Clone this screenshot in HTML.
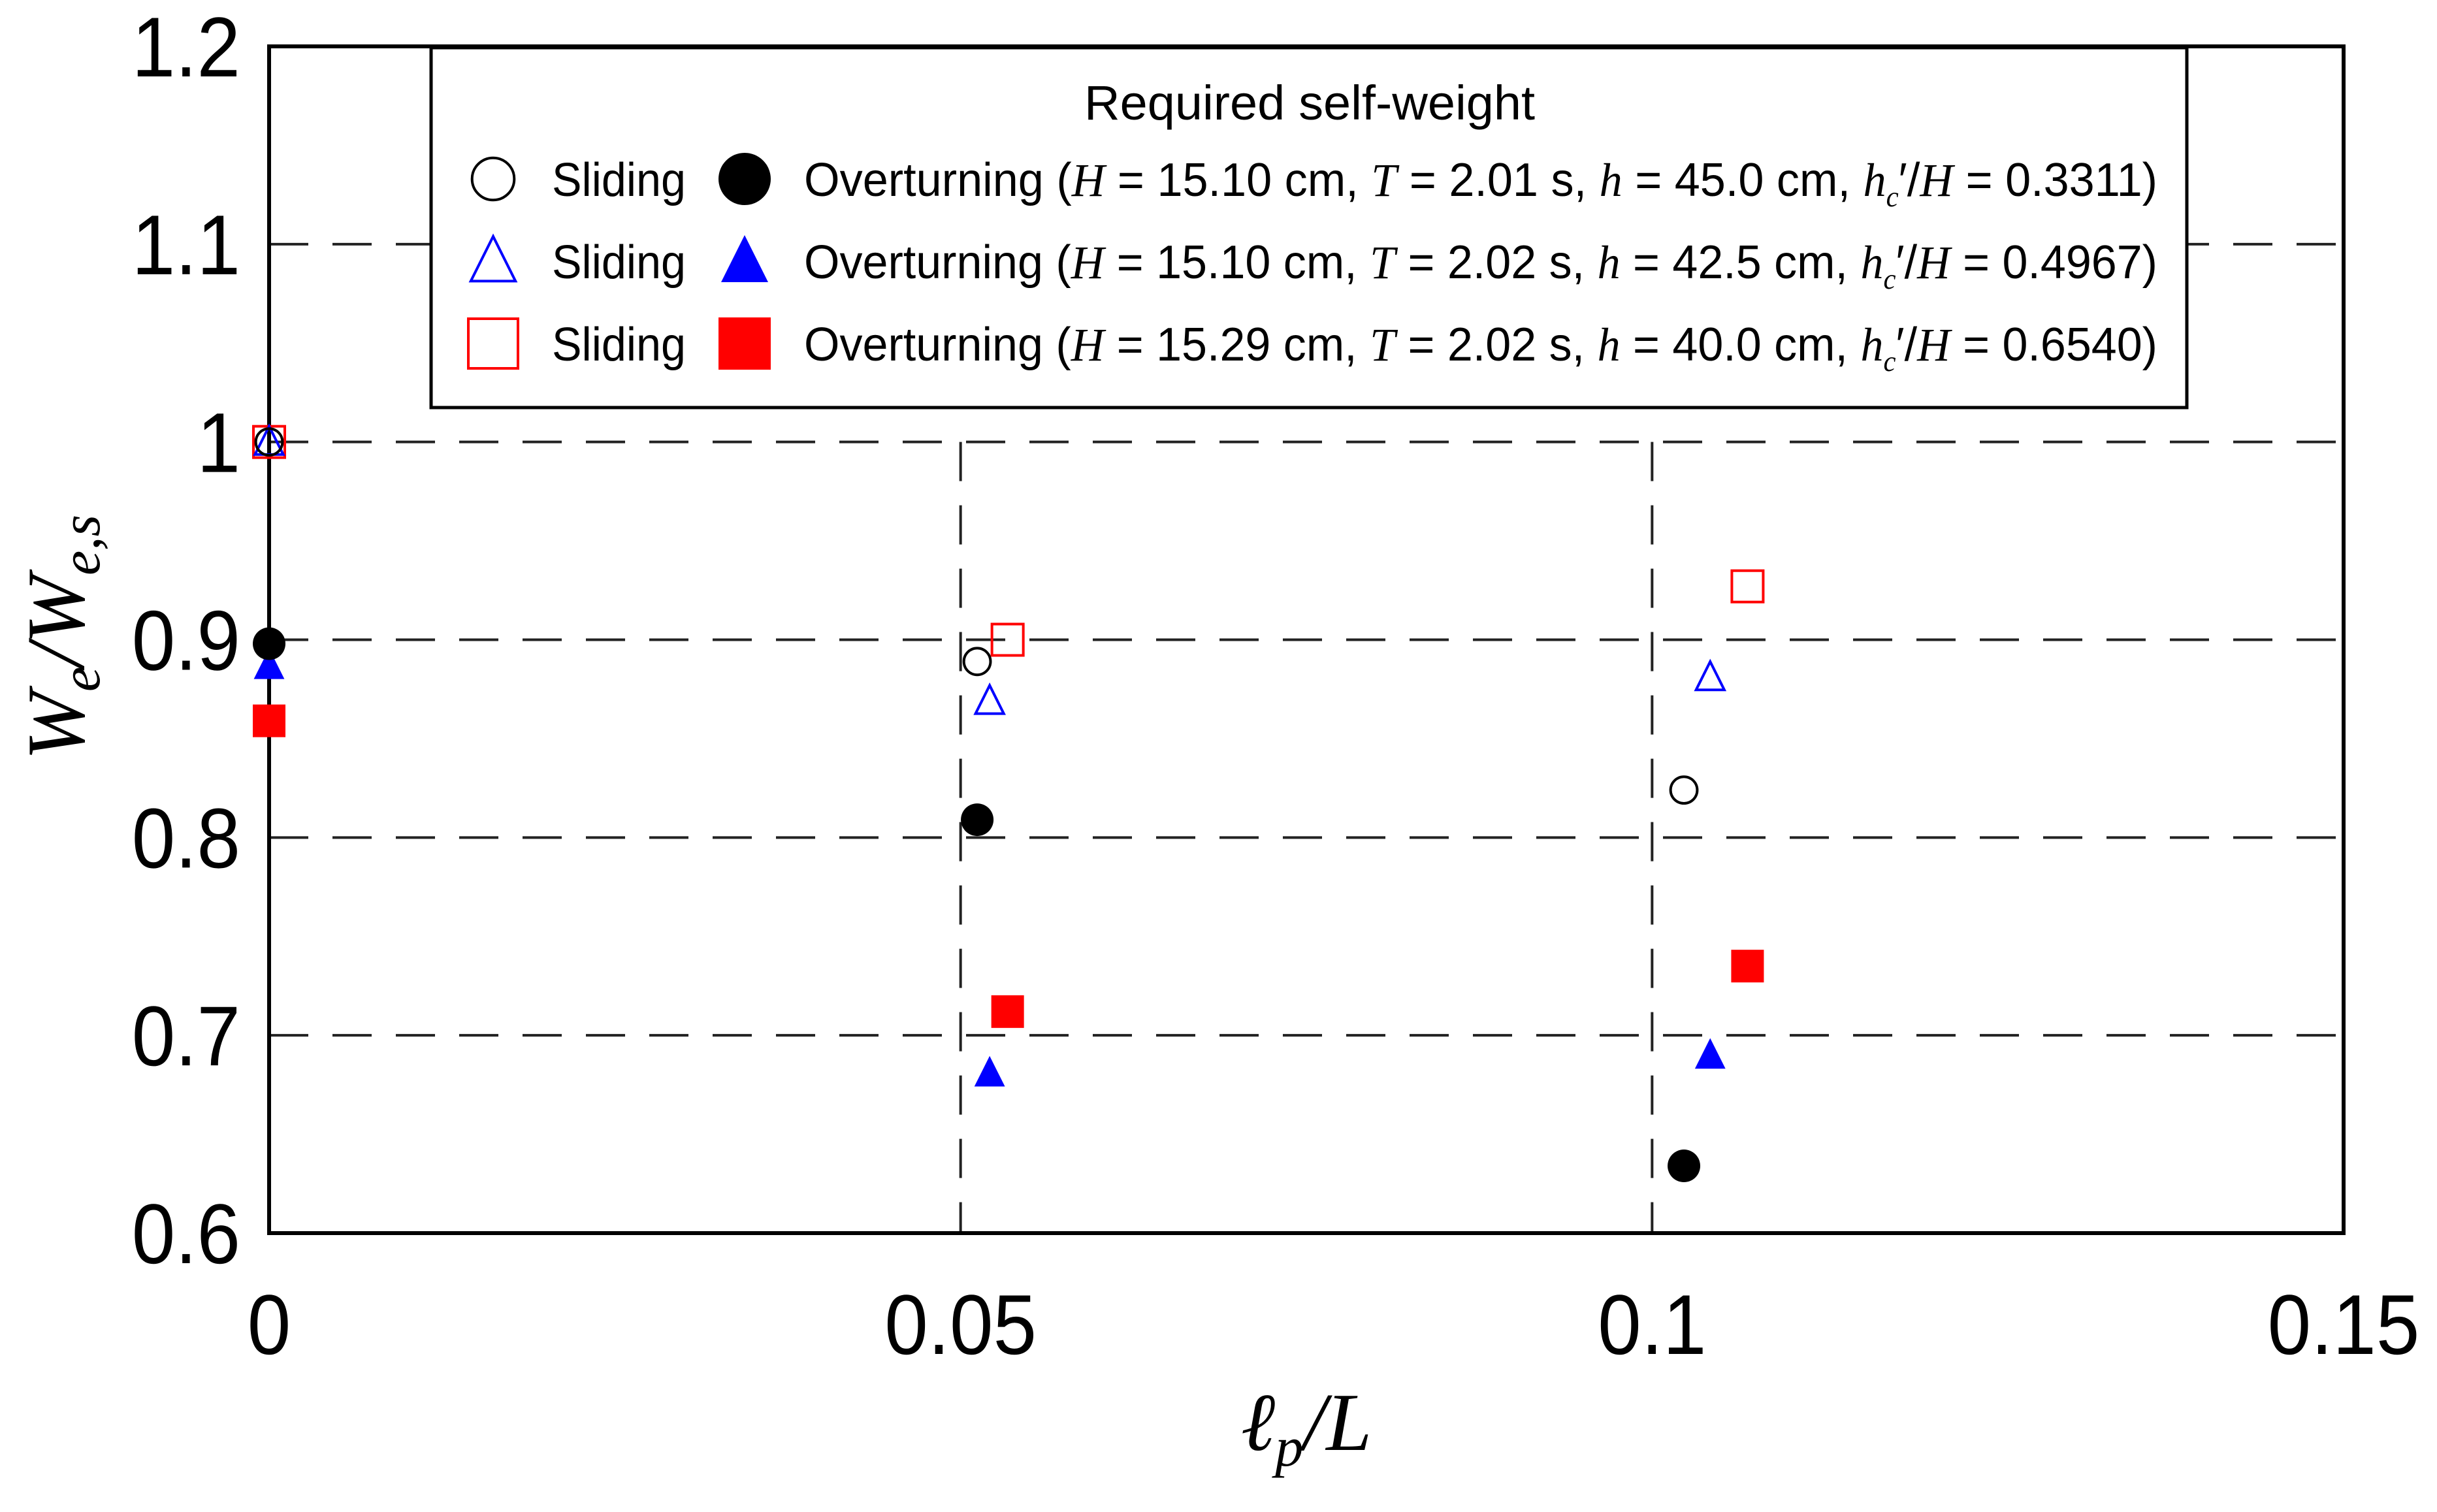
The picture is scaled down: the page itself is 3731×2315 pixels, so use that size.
<!DOCTYPE html>
<html><head><meta charset="utf-8"><style>
html,body{margin:0;padding:0;background:#fff;}
svg{display:block;}
text{font-family:"Liberation Sans",sans-serif;}
.it{font-family:"Liberation Serif",serif;font-style:italic;}
</style></head><body>
<svg id="chart" width="3731" height="2315" viewBox="0 0 3731 2315" xmlns="http://www.w3.org/2000/svg">
<g id="grid"></g>
<g id="legend">
  <rect x="660" y="73" width="2688" height="551" fill="#fff" stroke="#000" stroke-width="5"/>
  <text x="2005" y="183" font-size="74" text-anchor="middle" textLength="690" lengthAdjust="spacingAndGlyphs">Required self-weight</text>
</g>
<rect x="412" y="71" width="3176" height="1817" fill="none" stroke="#000" stroke-width="6"/>
<g id="axes"></g>
<g id="marks"></g>
<text class="it" transform="translate(128,976) rotate(-90)" font-size="126" text-anchor="middle">W<tspan font-size="86" dy="24">e</tspan><tspan dy="-24">/W</tspan><tspan font-size="86" dy="24">e,s</tspan></text>
<text class="it" x="2000" y="2220" font-size="126" text-anchor="middle">ℓ<tspan font-size="86" dy="24">p</tspan><tspan dy="-24">/L</tspan></text>
</svg>
<script>
const xTicks = [0, 0.05, 0.1, 0.15];
const xTickLabels = ["0", "0.05", "0.1", "0.15"];
const yTicks = [0.6, 0.7, 0.8, 0.9, 1.0, 1.1, 1.2];
const yTickLabels = ["0.6", "0.7", "0.8", "0.9", "1", "1.1", "1.2"];
const hGridVals = [0.7, 0.8, 0.9, 1.0, 1.1];
const vGridVals = [0.05, 0.1];

const circOpenX = [0, 0.0512, 0.1023];
const circOpenY = [1.0, 0.889, 0.824];
const circFillX = [0, 0.0512, 0.1023];
const circFillY = [0.898, 0.809, 0.634];
const triOpenX = [0, 0.0521, 0.1042];
const triOpenY = [1.0, 0.869, 0.881];
const triFillX = [0, 0.0521, 0.1042];
const triFillY = [0.887, 0.681, 0.690];
const sqOpenX = [0, 0.0534, 0.1069];
const sqOpenY = [1.0, 0.900, 0.927];
const sqFillX = [0, 0.0534, 0.1069];
const sqFillY = [0.859, 0.712, 0.735];

const NS = "http://www.w3.org/2000/svg";
const X0 = 412, X1 = 3588, Y0 = 1888, Y1 = 71;
function xs(v){ return X0 + (v - 0) / 0.15 * (X1 - X0); }
function ys(v){ return Y0 - (v - 0.6) / 0.6 * (Y0 - Y1); }
function mk(tag, attrs, parent){ const e = document.createElementNS(NS, tag); for (const k in attrs) e.setAttribute(k, attrs[k]); parent.appendChild(e); return e; }

const grid = document.getElementById('grid');
hGridVals.forEach(v => {
  const l = mk('line', {x1: X0, x2: X1, y1: ys(v), y2: ys(v), stroke: '#222', 'stroke-width': 4, 'stroke-dasharray': '60 37'}, grid);
  
  
});
vGridVals.forEach(v => {
  const l = mk('line', {x1: xs(v), x2: xs(v), y1: ys(1.0), y2: Y0, stroke: '#222', 'stroke-width': 4, 'stroke-dasharray': '60 37'}, grid);
  
  
});

const axes = document.getElementById('axes');
yTicks.forEach((v, i) => {
  const t = mk('text', {x: 368, y: ys(v) + 46, 'font-size': 130, 'text-anchor': 'end', transform: `translate(368,0) scale(0.92,1) translate(-368,0)`}, axes);
  t.textContent = yTickLabels[i];
  
  
});
xTicks.forEach((v, i) => {
  const cx = xs(v);
  const t = mk('text', {x: cx, y: 2073, 'font-size': 130, 'text-anchor': 'middle', transform: `translate(${cx},0) scale(0.92,1) translate(${-cx},0)`}, axes);
  t.textContent = xTickLabels[i];
  
  
});

function marker(type, cx, cy, s, parent, name){
  let e;
  if (type === 'circO') e = mk('circle', {cx: cx, cy: cy, r: s*0.85, fill: 'none', stroke: '#000', 'stroke-width': 4}, parent);
  if (type === 'circF') e = mk('circle', {cx: cx, cy: cy, r: s, fill: '#000'}, parent);
  if (type === 'triO') e = mk('polygon', {points: `${cx},${cy-s} ${cx-s*0.9},${cy+s*0.8} ${cx+s*0.9},${cy+s*0.8}`, fill: 'none', stroke: '#00f', 'stroke-width': 4}, parent);
  if (type === 'triF') e = mk('polygon', {points: `${cx},${cy-s} ${cx-s*0.9},${cy+s*0.8} ${cx+s*0.9},${cy+s*0.8}`, fill: '#00f'}, parent);
  if (type === 'sqO') e = mk('rect', {x: cx-s, y: cy-s, width: 2*s, height: 2*s, fill: 'none', stroke: '#f00', 'stroke-width': 4}, parent);
  if (type === 'sqF') e = mk('rect', {x: cx-s, y: cy-s, width: 2*s, height: 2*s, fill: '#f00'}, parent);
  
  
  return e;
}

const marks = document.getElementById('marks');
const series = [
  ['sqF', sqFillX, sqFillY, 25, 'point-overturning-square'],
  ['triF', triFillX, triFillY, 26, 'point-overturning-triangle'],
  ['circF', circFillX, circFillY, 25, 'point-overturning-circle'],
  ['sqO', sqOpenX, sqOpenY, 24, 'point-sliding-square'],
  ['triO', triOpenX, triOpenY, 24, 'point-sliding-triangle'],
  ['circO', circOpenX, circOpenY, 24, 'point-sliding-circle']
];
series.forEach(s => { s[1].forEach((xv, i) => marker(s[0], xs(xv), ys(s[2][i]), s[3], marks, s[4])); });

const legend = document.getElementById('legend');
const rowsY = [274, 400, 526];
const openT = ['circO', 'triO', 'sqO'];
const fillT = ['circF', 'triF', 'sqF'];
const params = [
  ['15.10', '2.01', '45.0', '0.3311'],
  ['15.10', '2.02', '42.5', '0.4967'],
  ['15.29', '2.02', '40.0', '0.6540']
];
rowsY.forEach((y, i) => {
  marker(openT[i], 755, y, 38, legend, 'legend-marker-sliding');
  marker(fillT[i], 1140, y, 40, legend, 'legend-marker-overturning');
  const t1 = mk('text', {x: 845, y: y + 26, 'font-size': 72, textLength: 205, lengthAdjust: 'spacingAndGlyphs'}, legend);
  t1.textContent = 'Sliding';
  
  
  const p = params[i];
  const t2 = mk('text', {x: 1231, y: y + 26, 'font-size': 72, textLength: 2072, lengthAdjust: 'spacingAndGlyphs'}, legend);
  t2.innerHTML = `Overturning (<tspan class="it">H</tspan> = ${p[0]} cm, <tspan class="it">T</tspan> = ${p[1]} s, <tspan class="it">h</tspan> = ${p[2]} cm, <tspan class="it">h</tspan><tspan class="it" font-size="44" dy="16">c</tspan><tspan dy="-16">′/</tspan><tspan class="it">H</tspan> = ${p[3]})`;
  
  
});
</script>
</body></html>
